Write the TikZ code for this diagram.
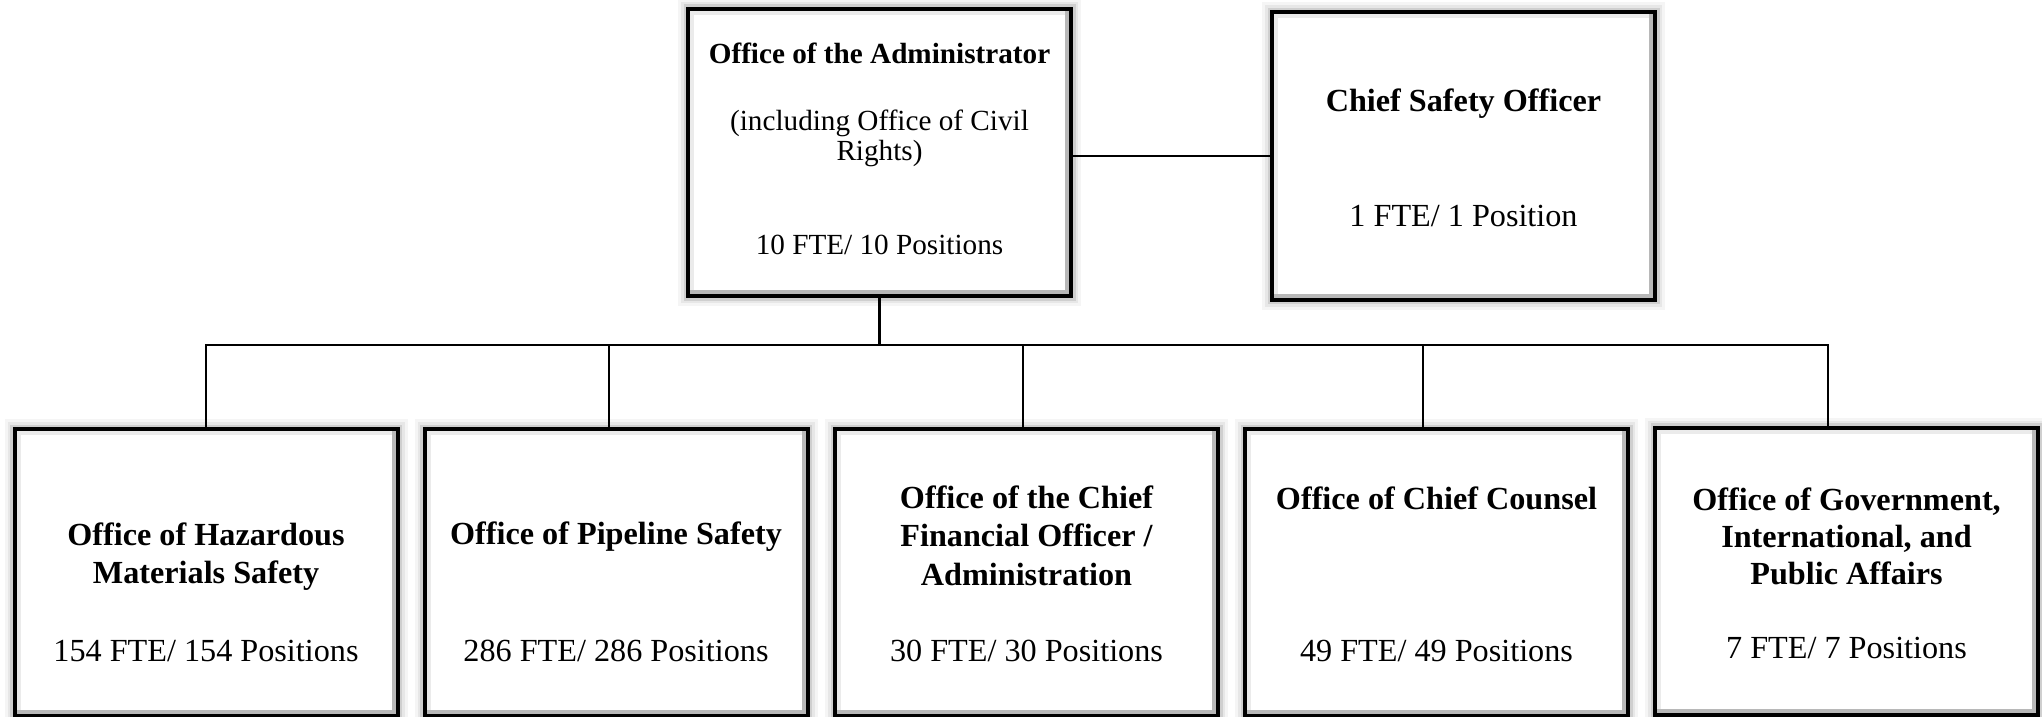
\documentclass[tikz,border=0pt]{standalone}
\usepackage{fontspec}
\setmainfont{Liberation Serif}
\usetikzlibrary{positioning, calc}

\tikzset{
    unit/.style={draw, line width=2pt, fill=white, inner sep=0pt,
        minimum width=191.5pt, minimum height=143.5pt,
        preaction={draw=black, line width=10pt, opacity=0.04},
        preaction={draw=black, line width=7pt, opacity=0.06},
        preaction={draw=black, line width=4.5pt, opacity=0.1},
        path picture={
            \draw[black!8, line width=6pt] (path picture bounding box.south west) |- (path picture bounding box.north east);
            \draw[black!28, line width=6pt] (path picture bounding box.south west) -| (path picture bounding box.north east);
        }},
    head/.style={font=\bfseries\fontsize{16.1}{#1}\selectfont, align=center, inner sep=0pt, anchor=base},
    head/.default=19,
    sub/.style={font=\fontsize{16.1}{#1}\selectfont, align=center, inner sep=0pt, anchor=base},
    sub/.default=19,
    link/.style={draw, line width=1.2pt}
}

\begin{document}
\begin{tikzpicture}[x=0.5pt, y=-0.5pt]
\useasboundingbox (0,0) rectangle (2042,717);

\node[unit] (admin) at (879.5,152.5) {};
\node[unit] (cso) at (1463.5,156) {};
\node[unit] (hazmat) at (206,572.5) {};
\node[unit] (pipe) at (616,572.5) {};
\node[unit] (cfo) at (1026.5,572.5) {};
\node[unit] (counsel) at (1436.5,572.5) {};
\node[unit] (gipa) at (1846.5,571) {};

\node[head, font=\bfseries\fontsize{14.6}{17}\selectfont] (admin-h) at ($(admin.north)+(0,57)$) {Office of the Administrator};
\node[sub, font=\fontsize{14.6}{15}\selectfont] (admin-s) at ($(admin.north)+(0,154)$) {(including Office of Civil\\Rights)};
\node[sub, font=\fontsize{14.6}{17}\selectfont] (admin-f) at ($(admin.north)+(0,248)$) {10 FTE/ 10 Positions};

\node[head] (cso-h) at ($(cso.north)+(0,101.5)$) {Chief Safety Officer};
\node[sub] (cso-f) at ($(cso.north)+(0,216)$) {1 FTE/ 1 Position};

\node[head=19] (hazmat-h) at ($(hazmat.north)+(0,156)$) {Office of Hazardous\\Materials Safety};
\node[sub] (hazmat-f) at ($(hazmat.north)+(0,234)$) {154 FTE/ 154 Positions};

\node[head] (pipe-h) at ($(pipe.north)+(0,117)$) {Office of Pipeline Safety};
\node[sub] (pipe-f) at ($(pipe.north)+(0,234)$) {286 FTE/ 286 Positions};

\node[head=19.2] (cfo-h) at ($(cfo.north)+(0,158)$) {Office of the Chief\\Financial Officer /\\Administration};
\node[sub] (cfo-f) at ($(cfo.north)+(0,234)$) {30 FTE/ 30 Positions};

\node[head] (counsel-h) at ($(counsel.north)+(0,82)$) {Office of Chief Counsel};
\node[sub] (counsel-f) at ($(counsel.north)+(0,234)$) {49 FTE/ 49 Positions};

\node[head=18.5] (gipa-h) at ($(gipa.north)+(0,158.5)$) {Office of Government,\\International, and\\Public Affairs};
\node[sub] (gipa-f) at ($(gipa.north)+(0,233)$) {7 FTE/ 7 Positions};

\coordinate (bus) at (879.5,345);
\draw[link] (cso.west -| admin.east) -- (cso.west);
\draw[link] (admin) -- (bus);
\foreach \u/\dx in {hazmat/0pt, pipe/-3.5pt, cfo/-1.75pt, counsel/-6.75pt, gipa/-9.25pt}
    \draw[link] ([xshift=\dx]\u.north) |- (bus);
\end{tikzpicture}
\end{document}
